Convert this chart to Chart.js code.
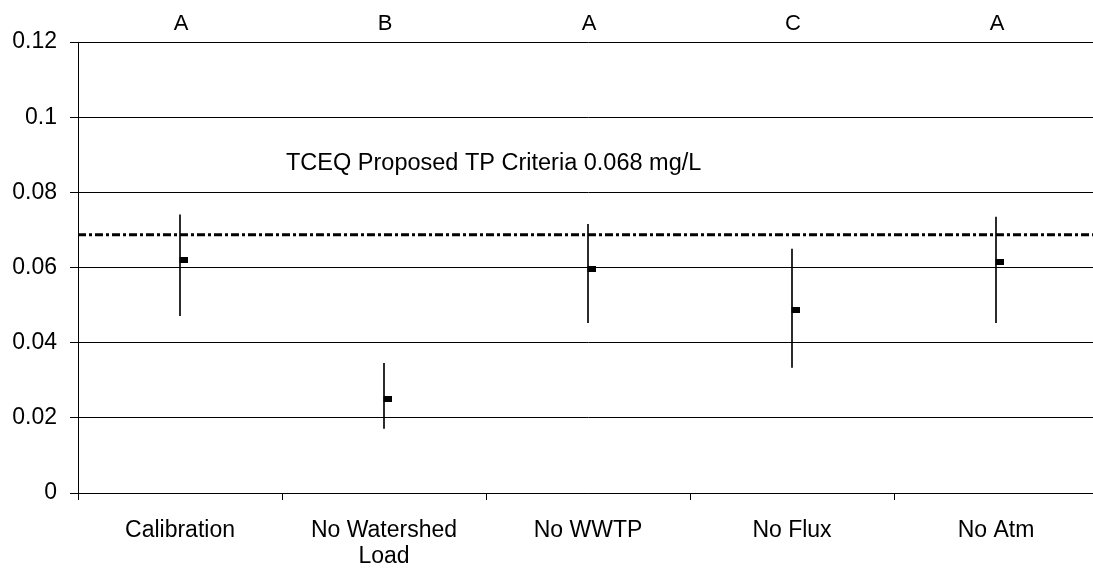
<!DOCTYPE html>
<html>
<head>
<meta charset="utf-8">
<script src="https://cdn.jsdelivr.net/npm/chart.js@4/dist/chart.umd.min.js"></script>
<style>
  html, body { margin: 0; padding: 0; background: #fff; overflow: hidden; }
  #wrap { width: 1093px; height: 570px; overflow: hidden; }
</style>
</head>
<body>
<div id="wrap"><canvas id="tp" width="1103" height="570"></canvas></div>
<script>
// Datos
const scenarios = ['Calibration', ['No Watershed', 'Load'], 'No WWTP', 'No Flux', 'No Atm'];
const meanTP = [0.0620, 0.0251, 0.0595, 0.0487, 0.0615];
const lowTP = [0.0472, 0.0172, 0.0453, 0.0334, 0.0453];
const highTP = [0.0740, 0.0345, 0.0715, 0.0649, 0.0734];
const groups = ['A', 'B', 'A', 'C', 'A'];
const criteria = 0.0687;
const criteriaLabel = 'TCEQ Proposed TP Criteria 0.068 mg/L';
const yTicks = [0, 0.02, 0.04, 0.06, 0.08, 0.1, 0.12];

const FONT = '"Liberation Sans", Arial, sans-serif';

// marcador: rectangulo negro a la derecha de la barra
const marker = document.createElement('canvas');
marker.width = 15;
marker.height = 6;
const mctx = marker.getContext('2d');
mctx.fillStyle = '#000';
mctx.fillRect(7, 0, 8, 6);

const extras = {
  id: 'extras',
  beforeDatasetsDraw(chart) {
    const c = chart.ctx, area = chart.chartArea;
    const y = chart.scales.y.getPixelForValue(criteria);
    c.save();
    c.strokeStyle = '#000';
    c.lineWidth = 3;
    c.setLineDash([8, 3, 3, 3]);
    c.beginPath();
    c.moveTo(area.left, y);
    c.lineTo(area.right, y);
    c.stroke();
    c.restore();
  },
  afterDraw(chart) {
    const c = chart.ctx, area = chart.chartArea, x = chart.scales.x;
    c.save();
    c.fillStyle = '#000';
    c.font = '22px ' + FONT;
    c.textAlign = 'center';
    c.textBaseline = 'middle';
    groups.forEach((g, i) => c.fillText(g, x.getPixelForValue(i) + 1, 24));
    c.font = '23.5px ' + FONT;
    c.textAlign = 'left';
    c.textBaseline = 'alphabetic';
    c.fillText(criteriaLabel, area.left + 208, 169.5);
    c.restore();
  }
};

const tp = new Chart(document.getElementById('tp').getContext('2d'), {
  data: {
    labels: scenarios,
    datasets: [{
      type: 'line',
      label: 'Mean TP',
      data: meanTP,
      showLine: false,
      pointStyle: marker,
      pointRadius: 4,
      order: 0
    }, {
      type: 'bar',
      label: 'Range',
      data: lowTP.map((v, i) => [v, highTP[i]]),
      backgroundColor: '#000',
      barThickness: 1,
      order: 1
    }]
  },
  options: {
    responsive: false,
    animation: false,
    layout: { padding: { top: 42, right: 1, left: 0, bottom: 0 } },
    plugins: { legend: { display: false }, tooltip: { enabled: false } },
    scales: {
      x: {
        offset: true,
        grid: { offset: true, drawOnChartArea: false, drawTicks: true, tickLength: 7, color: '#000' },
        border: { color: '#000', width: 1 },
        ticks: { color: '#000', padding: 18, maxRotation: 0, font: { family: FONT, size: 23, lineHeight: 1.13 } },
        afterFit(s) { s.height = 77; }
      },
      y: {
        min: 0,
        max: 0.12,
        afterBuildTicks(s) { s.ticks = yTicks.map(v => ({ value: v })); },
        grid: { color: '#000', lineWidth: 1, tickLength: 8 },
        border: { color: '#000', width: 1 },
        ticks: { color: '#000', padding: 13, font: { family: FONT, size: 23 }, callback: v => String(+v.toFixed(2)) },
        afterFit(s) { s.width = 78; }
      }
    }
  },
  plugins: [extras]
});
</script>
</body>
</html>
